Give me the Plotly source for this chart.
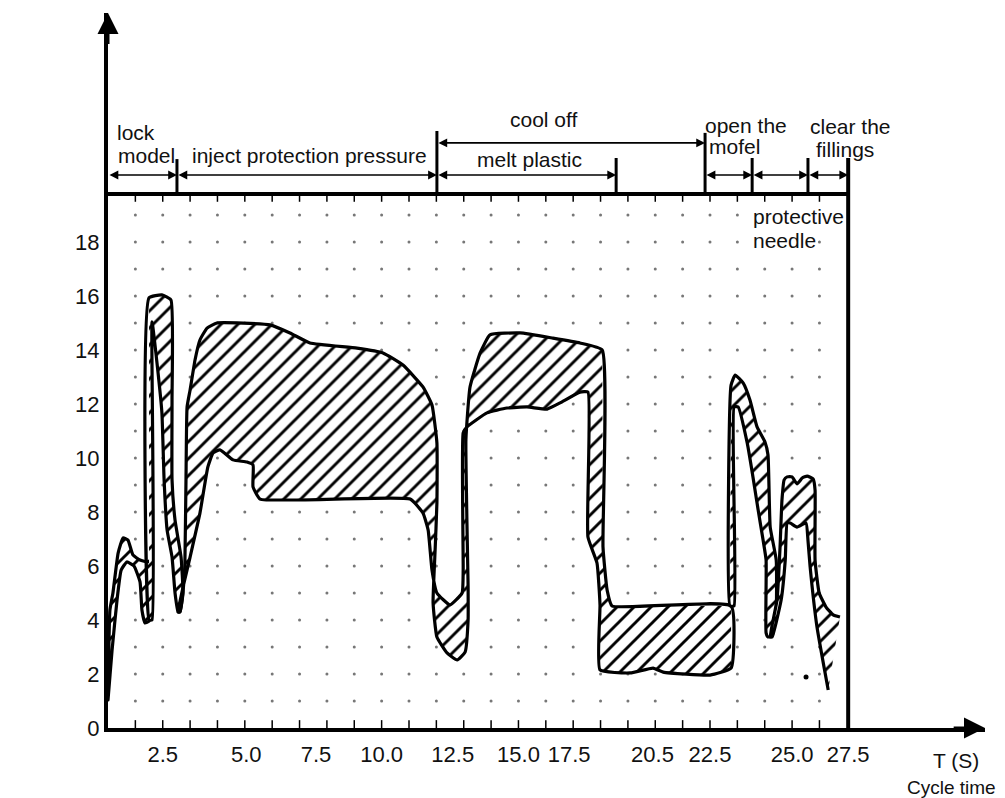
import plotly.graph_objects as go

# ---------------- data ----------------
# x in cycle-grid units (one dot column = 1), y in kW

# lock model hump
hump_up_x = [0, 0.07, 0.18, 0.37, 0.55, 0.73, 0.91, 1.17, 1.46, 1.57]
hump_up_y = [1.04, 4.37, 5.0, 6.48, 7.04, 6.96, 6.41, 6.22, 6.15, 6.22]
hump_lo_x = [0, 0.15, 0.33, 0.48, 0.69, 0.95, 1.17, 1.24, 1.35, 1.50, 1.57]
hump_lo_y = [1.04, 2.89, 4.74, 5.85, 6.15, 6.0, 5.41, 4.37, 3.89, 3.96, 4.74]

# tall spike after lock model
spike_up_x = [1.50, 1.50, 1.97, 2.30, 2.34, 2.34, 2.45, 2.67, 2.74, 2.63]
spike_up_y = [4.0, 15.93, 16.04, 15.85, 12.15, 9.19, 7.70, 6.33, 5.0, 4.30]
spike_lo_x = [1.61, 1.61, 1.79, 1.97, 2.05, 2.16, 2.34, 2.45, 2.56]
spike_lo_y = [4.0, 15.04, 13.52, 11.67, 9.19, 7.33, 6.33, 5.0, 4.30]

# injection / cooling / melting / low block
main_up_x = [2.63, 2.78, 2.81, 2.85, 2.89, 3.00, 3.18, 3.36, 3.62, 3.98,
             5.92, 6.65, 7.38, 9.10, 10.05, 10.78, 11.51, 11.84, 12.02, 12.02,
             11.95, 11.88, 12.02, 12.39, 12.76, 13.05, 13.16, 13.16, 13.08, 13.23,
             13.60, 13.96, 15.06, 16.26, 17.25, 18.06, 18.09, 18.24, 18.42, 22.77]
main_up_y = [4.30, 5.48, 6.11, 9.19, 11.89, 12.52, 13.63, 14.37, 14.81, 15.0,
             14.93, 14.63, 14.26, 14.07, 13.89, 13.44, 12.63, 11.96, 10.56, 8.33,
             6.48, 4.63, 3.37, 2.78, 2.52, 2.81, 4.0, 5.22, 10.67, 12.63,
             13.89, 14.56, 14.63, 14.44, 14.26, 14.0, 6.70, 5.11, 4.52, 4.52]
main_lo_x = [2.56, 3.00, 3.36, 3.65, 3.84, 4.09, 4.57, 5.08, 5.30, 5.30,
             5.56, 11.04, 11.51, 11.70, 11.84, 12.02, 12.50, 12.94, 12.98, 12.98,
             13.12, 13.85, 14.58, 15.31, 16.05, 16.52, 17.25, 17.54, 17.54, 17.87,
             17.98, 17.98, 19.08, 19.92, 20.29, 22.00, 22.77]
main_lo_y = [4.30, 6.33, 7.96, 9.67, 10.19, 10.30, 9.93, 9.85, 9.74, 8.93,
             8.48, 8.48, 7.96, 7.33, 5.85, 5.0, 4.56, 5.0, 5.85, 10.93,
             11.15, 11.67, 11.85, 11.89, 11.81, 12.04, 12.44, 12.44, 7.07, 6.11,
             4.56, 2.15, 2.04, 2.22, 2.07, 1.96, 2.22]

# open the mould spike
mofel_up_x = [22.73, 22.77, 22.92, 23.21, 23.46, 23.72, 24.01, 24.12, 24.20, 24.42, 24.42, 24.27]
mofel_up_y = [4.52, 12.70, 13.07, 12.78, 12.15, 11.15, 10.59, 10.11, 7.44, 6.22, 4.37, 3.41]
mofel_lo_x = [22.88, 22.88, 23.03, 23.36, 23.57, 23.76, 23.94, 24.05, 24.05, 24.12]
mofel_lo_y = [4.52, 11.89, 11.89, 10.56, 9.30, 8.07, 6.96, 6.22, 3.52, 3.37]

# protective needle / clear the fillings
needle_up_x = [24.20, 24.45, 24.56, 24.63, 24.71, 24.82, 25.0, 25.18, 25.37, 25.55,
               25.77, 25.84, 25.84, 25.99, 26.24, 26.50, 26.75]
needle_up_y = [3.37, 4.74, 6.70, 8.44, 9.19, 9.30, 9.30, 9.04, 9.26, 9.33,
               9.22, 8.81, 6.22, 5.0, 4.48, 4.19, 4.11]
needle_lo_x = [24.27, 24.60, 24.75, 24.82, 24.93, 25.18, 25.51, 25.58, 25.66, 25.91, 26.32]
needle_lo_y = [3.37, 4.74, 6.22, 7.59, 7.59, 7.44, 7.59, 6.96, 5.96, 3.74, 1.41]

stray_x = [25.51]
stray_y = [1.89]

# axes ticks
x_tick_pos = [2.0, 5.05, 7.6, 10.0, 12.6, 15.0, 16.85, 19.9, 22.0, 25.0, 27.05]
x_tick_text = ["2.5", "5.0", "7.5", "10.0", "12.5", "15.0", "17.5", "20.5", "22.5", "25.0", "27.5"]
y_ticks = [0, 2, 4, 6, 8, 10, 12, 14, 16, 18]

# phase markers above the chart: (start, end, row)
phase_start = [0.0, 2.52, 12.02, 21.82, 23.54, 25.58, 12.02]
phase_end = [2.52, 12.02, 18.57, 23.54, 25.58, 27.05, 21.82]
phase_row = [20.48, 20.48, 20.48, 20.48, 20.48, 20.48, 21.67]
sep_x = [2.52, 12.02, 18.57, 21.82, 23.54, 25.58]
sep_top = [21.07, 22.11, 21.11, 22.04, 21.11, 21.11]

# ---------------- layout constants ----------------
XMAX = 32.05
YMAX = 26.48
BOX_R = 27.05
BOX_T = 19.78
FONT = "Liberation Sans, Arial, sans-serif"

fig = go.Figure()

# dotted grid
gx, gy = [], []
for i in range(1, 27):
    for j in range(1, 20):
        gx.append(i)
        gy.append(j)
fig.add_trace(go.Scatter(x=gx, y=gy, mode="markers",
                         marker=dict(size=3, color="#777"), hoverinfo="skip"))
# small ticks on the top border and bottom axis
fig.add_trace(go.Scatter(x=list(range(1, 27)), y=[BOX_T - 0.11] * 26, mode="markers",
                         marker=dict(symbol="line-ns", size=7, line=dict(width=1.5, color="black")),
                         hoverinfo="skip"))
fig.add_trace(go.Scatter(x=list(range(1, 27)), y=[0.11] * 26, mode="markers",
                         marker=dict(symbol="line-ns", size=7, line=dict(width=1.5, color="black")),
                         hoverinfo="skip"))

regions = [
    (hump_up_x, hump_up_y, hump_lo_x, hump_lo_y, True),
    (spike_up_x, spike_up_y, spike_lo_x, spike_lo_y, True),
    (main_up_x, main_up_y, main_lo_x, main_lo_y, True),
    (mofel_up_x, mofel_up_y, mofel_lo_x, mofel_lo_y, True),
    (needle_up_x, needle_up_y, needle_lo_x, needle_lo_y, False),
]
for ux, uy, lx, ly, closed in regions:
    px = ux + lx[::-1]
    py = uy + ly[::-1]
    fig.add_trace(go.Scatter(
        x=px, y=py, mode="lines", fill="toself", line=dict(width=0),
        fillcolor="white",
        fillpattern=dict(shape="/", size=12, solidity=0.24, fgcolor="black",
                         bgcolor="white", fillmode="replace"),
        hoverinfo="skip"))
    if closed:
        ox, oy = px + [px[0]], py + [py[0]]
    else:
        ox, oy = lx[::-1] + ux, ly[::-1] + uy
    fig.add_trace(go.Scatter(x=ox, y=oy, mode="lines",
                             line=dict(width=3.2, color="black", shape="spline", smoothing=0.4),
                             hoverinfo="skip"))

fig.add_trace(go.Scatter(x=stray_x, y=stray_y, mode="markers",
                         marker=dict(size=5, color="black"), hoverinfo="skip"))

shapes = [
    dict(type="line", x0=0, x1=BOX_R, y0=BOX_T, y1=BOX_T, line=dict(width=4, color="black")),
    dict(type="line", x0=BOX_R, x1=BOX_R, y0=0, y1=21.11, line=dict(width=4, color="black")),
]
for sx, st in zip(sep_x, sep_top):
    shapes.append(dict(type="line", x0=sx, x1=sx, y0=BOX_T, y1=st,
                       line=dict(width=3, color="black")))

ann = []
for a, b, r in zip(phase_start, phase_end, phase_row):
    ann.append(dict(x=b, y=r, ax=a, ay=r, xref="x", yref="y", axref="x", ayref="y",
                    text="", showarrow=True, arrowhead=2, startarrowhead=2,
                    arrowside="end+start", arrowsize=1.1, startarrowsize=1.1,
                    arrowwidth=1.6, arrowcolor="black", standoff=0, startstandoff=0))
# axis arrows
ann.append(dict(x=0, y=YMAX, ax=0, ay=YMAX - 1.2, xref="x", yref="y", axref="x", ayref="y",
                text="", showarrow=True, arrowhead=2, arrowsize=1.4, arrowwidth=3,
                arrowcolor="black"))
ann.append(dict(x=XMAX, y=0, ax=XMAX - 1.2, ay=0, xref="x", yref="y", axref="x", ayref="y",
                text="", showarrow=True, arrowhead=2, arrowsize=1.4, arrowwidth=3,
                arrowcolor="black"))


def txt(s, x, y, size=21, xanchor="center", bg=None, ref="x"):
    d = dict(text=s, x=x, y=y, showarrow=False, xanchor=xanchor,
             yanchor="middle", font=dict(family=FONT, size=size, color="#111"))
    if ref == "paper":
        d["xref"] = "paper"
        d["yref"] = "paper"
    else:
        d["xref"] = "x"
        d["yref"] = "y"
    if bg:
        d["bgcolor"] = bg
        d["borderpad"] = 0
    return d


ann += [
    txt("P (KW)", -2.12, 23.78, 22),
    txt("Power", -3.47, 22.81, 15, "left"),
    txt("Consumption", -3.47, 22.07, 15, "left"),
    txt("lock", 0.26, 22.07, 21, "left"),
    txt("model", 0.30, 21.22, 21, "left"),
    txt("inject protection pressure", 7.36, 21.22, 21),
    txt("cool off", 15.90, 22.52, 21),
    txt("melt plastic", 15.42, 21.04, 21),
    txt("open the", 21.75, 22.33, 21, "left"),
    txt("mofel", 21.89, 21.52, 21, "left"),
    txt("clear the", 27.12, 22.26, 21),
    txt("fillings", 26.94, 21.41, 21),
    txt("protective", 23.54, 18.93, 21, "left", bg="white"),
    txt("needle", 23.54, 18.07, 21, "left", bg="white"),
    txt("T (S)", 0.967, -0.046, 21, ref="paper"),
    txt("Cycle time", 0.962, -0.083, 19, ref="paper"),
]

fig.update_layout(
    width=1005, height=798, autosize=False,
    margin=dict(l=108, r=20, t=13, b=70),
    paper_bgcolor="white", plot_bgcolor="white",
    showlegend=False, hovermode=False,
    shapes=shapes, annotations=ann,
    xaxis=dict(range=[0, XMAX], showgrid=False, zeroline=False, showline=True,
               linewidth=4, linecolor="black", tickmode="array", tickvals=x_tick_pos,
               ticktext=x_tick_text, ticks="", ticklabelstandoff=4,
               tickfont=dict(family=FONT, size=22, color="#111")),
    yaxis=dict(range=[0, YMAX], showgrid=False, zeroline=False, showline=True,
               linewidth=4, linecolor="black", tickmode="array", tickvals=y_ticks,
               ticks="", ticklabelstandoff=0,
               tickfont=dict(family=FONT, size=22, color="#111")),
)

fig.write_html("out.html", config={"displayModeBar": False},
               post_script="document.body.style.margin='0';")
